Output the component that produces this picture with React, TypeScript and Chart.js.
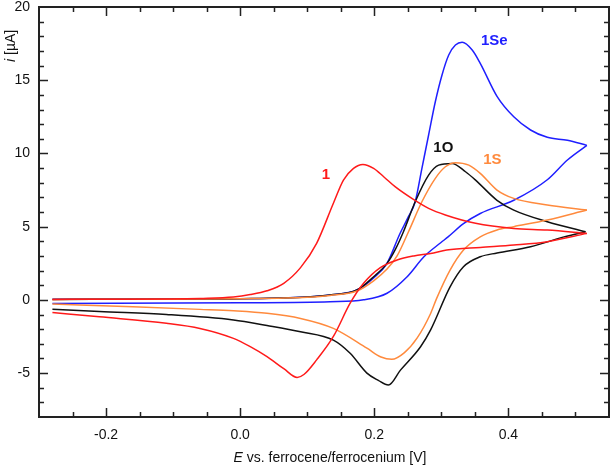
import React, { useEffect, useRef } from "react";
import { Chart, registerables } from "chart.js";

Chart.register(...registerables);

// Axis ticks
const xTicks = [-0.2, 0.0, 0.2, 0.4];
const yTicks = [-5, 0, 5, 10, 15, 20];

// Compound 1 (red): forward sweep then reverse sweep
const e1 = [-0.28, -0.2, -0.1, -0.06, -0.01, 0.015, 0.04, 0.065, 0.09, 0.114, 0.139, 0.154, 0.169, 0.183, 0.199, 0.214, 0.231, 0.256, 0.281, 0.306, 0.351, 0.408, 0.458, 0.517,
  0.458, 0.408, 0.358, 0.308, 0.284, 0.259, 0.234, 0.209, 0.184, 0.164, 0.139, 0.114, 0.095, 0.085, 0.065, 0.04, 0.015, -0.01, -0.06, -0.11, -0.21, -0.28];
const i1 = [0.03, 0.04, 0.06, 0.1, 0.2, 0.36, 0.62, 1.13, 2.2, 3.86, 6.6, 8.18, 8.98, 9.25, 8.98, 8.41, 7.73, 6.93, 6.25, 5.8, 5.23, 4.88, 4.77, 4.54,
  3.97, 3.74, 3.58, 3.4, 3.17, 3.0, 2.72, 2.2, 1.13, -0.23, -2.5, -4.1, -5.1, -5.3, -4.7, -3.88, -3.2, -2.63, -1.95, -1.6, -1.16, -0.86];

// Compound 1O (black)
const e1O = [-0.28, -0.1, 0.0, 0.1, 0.134, 0.174, 0.199, 0.219, 0.232, 0.243, 0.261, 0.281, 0.296, 0.316, 0.336, 0.351, 0.383, 0.408, 0.458, 0.515,
  0.483, 0.433, 0.383, 0.358, 0.333, 0.313, 0.284, 0.269, 0.239, 0.221, 0.206, 0.189, 0.164, 0.139, 0.09, 0.04, -0.01, -0.11, -0.21, -0.28];
const i1O = [0.03, 0.05, 0.08, 0.2, 0.33, 0.67, 1.58, 2.49, 3.5, 4.6, 6.7, 8.52, 9.2, 9.32, 8.75, 8.18, 6.8, 6.13, 5.34, 4.65,
  4.3, 3.63, 3.2, 2.94, 2.26, 0.89, -2.05, -3.2, -4.8, -5.82, -5.5, -5.0, -3.65, -2.75, -2.18, -1.75, -1.37, -1.0, -0.8, -0.64];

// Compound 1S (orange)
const e1S = [-0.28, -0.1, 0.0, 0.1, 0.134, 0.174, 0.199, 0.219, 0.234, 0.251, 0.271, 0.291, 0.306, 0.321, 0.341, 0.358, 0.383, 0.408, 0.458, 0.517,
  0.458, 0.408, 0.383, 0.358, 0.333, 0.313, 0.293, 0.284, 0.264, 0.245, 0.226, 0.21, 0.189, 0.139, 0.09, 0.04, -0.01, -0.06, -0.16, -0.28];
const i1S = [0.03, 0.05, 0.08, 0.18, 0.3, 0.6, 1.3, 2.1, 3.0, 4.65, 6.7, 8.3, 9.09, 9.37, 9.2, 8.64, 7.5, 6.93, 6.48, 6.13,
  5.45, 5.0, 4.77, 4.3, 3.4, 2.03, 0.1, -0.93, -2.6, -3.6, -4.06, -3.9, -3.3, -1.95, -1.27, -0.92, -0.75, -0.65, -0.47, -0.29];

// Compound 1Se (blue)
const e1Se = [-0.28, -0.1, 0.0, 0.1, 0.134, 0.174, 0.199, 0.219, 0.238, 0.25, 0.261, 0.271, 0.281, 0.291, 0.301, 0.311, 0.321, 0.331, 0.346, 0.358, 0.383, 0.408, 0.433, 0.458, 0.488, 0.517,
  0.488, 0.458, 0.408, 0.358, 0.333, 0.31, 0.299, 0.274, 0.249, 0.219, 0.184, 0.134, 0.0, -0.28];
const i1Se = [0.05, 0.06, 0.08, 0.2, 0.33, 0.67, 1.5, 2.5, 4.5, 5.6, 6.7, 8.98, 11.26, 13.53, 15.36, 16.72, 17.4, 17.59, 17.06, 16.15, 13.9, 12.5, 11.6, 11.1, 10.9, 10.55,
  9.55, 8.2, 6.8, 5.9, 5.2, 4.3, 3.9, 2.94, 1.58, 0.45, 0.0, -0.13, -0.2, -0.25];

// Curve labels (text, E, i)
const labelTexts = ["1", "1O", "1S", "1Se"];
const labelE = [0.128, 0.303, 0.376, 0.379];
const labelI = [8.52, 10.37, 9.55, 17.7];
const labelColors = ["#ff1a1a", "#111111", "#ff8a3d", "#1f1fff"];

const FONT = "'Liberation Sans', Arial, Helvetica, sans-serif";

// split a CV loop at its switching potential into forward and reverse branches
const branches = (xs: number[], ys: number[]) => {
  let v = 0;
  xs.forEach((x, k) => {
    if (x > xs[v]) v = k;
  });
  const pts = xs.map((x, k) => ({ x, y: ys[k] }));
  return [pts.slice(0, v + 1), pts.slice(v)];
};

const framePlugin = {
  id: "frameTicks",
  afterDatasetsDraw(chart: any) {
    const { ctx, scales } = chart;
    const x = scales.x;
    const y = scales.y;
    ctx.save();
    ctx.font = `bold 15px ${FONT}`;
    ctx.textAlign = "center";
    ctx.textBaseline = "middle";
    labelTexts.forEach((t, k) => {
      ctx.fillStyle = labelColors[k];
      ctx.fillText(t, x.getPixelForValue(labelE[k]), y.getPixelForValue(labelI[k]));
    });
    ctx.restore();
  },
  afterDraw(chart: any) {
    const { ctx, chartArea: a, scales } = chart;
    const x = scales.x;
    const y = scales.y;
    ctx.save();
    ctx.strokeStyle = "#222";
    ctx.lineWidth = 1.5;
    ctx.beginPath();
    for (let k = -5; k <= 10; k++) {
      const v = k * 0.05;
      const px = Math.round(x.getPixelForValue(v)) + 0.5;
      const len = k % 4 === 0 ? 9 : 5;
      ctx.moveTo(px, a.bottom);
      ctx.lineTo(px, a.bottom - len);
      ctx.moveTo(px, a.top);
      ctx.lineTo(px, a.top + len);
    }
    for (let k = -7; k <= 19; k++) {
      const py = Math.round(y.getPixelForValue(k)) + 0.5;
      const len = k % 5 === 0 ? 9 : 5;
      ctx.moveTo(a.left, py);
      ctx.lineTo(a.left + len, py);
      ctx.moveTo(a.right, py);
      ctx.lineTo(a.right - len, py);
    }
    ctx.stroke();
    ctx.lineWidth = 2;
    ctx.strokeRect(a.left, a.top, a.right - a.left, a.bottom - a.top);

    // axis titles
    ctx.fillStyle = "#111";
    ctx.textBaseline = "middle";
    ctx.textAlign = "left";
    const italic = `italic 14px ${FONT}`;
    const normal = `14px ${FONT}`;
    ctx.font = italic;
    const wE = ctx.measureText("E").width;
    ctx.font = normal;
    const rest = " vs. ferrocene/ferrocenium [V]";
    const wR = ctx.measureText(rest).width;
    const cx = (a.left + a.right) / 2 + 6;
    const sx = cx - (wE + wR) / 2;
    const ty = 458;
    ctx.font = italic;
    ctx.fillText("E", sx, ty);
    ctx.font = normal;
    ctx.fillText(rest, sx + wE, ty);

    ctx.translate(11, 62);
    ctx.rotate(-Math.PI / 2);
    ctx.font = italic;
    const wi = ctx.measureText("i").width;
    ctx.fillText("i", 0, 0);
    ctx.font = normal;
    ctx.fillText(" [µA]", wi, 0);
    ctx.restore();
  },
};

export default function App() {
  const ref = useRef<HTMLCanvasElement>(null);
  useEffect(() => {
    if (!ref.current) return;
    const ds = (label: string, xs: number[], ys: number[], color: string) =>
      branches(xs, ys).map((data) => ({
        label,
        data,
        showLine: true,
        borderColor: color,
        backgroundColor: color,
        borderWidth: 1.5,
        pointRadius: 0,
        cubicInterpolationMode: "monotone" as const,
        fill: false,
      }));
    const chart = new Chart(ref.current, {
      type: "scatter",
      data: {
        datasets: [
          ...ds("1", e1, i1, "#ff1a1a"),
          ...ds("1S", e1S, i1S, "#ff8a3d"),
          ...ds("1O", e1O, i1O, "#111111"),
          ...ds("1Se", e1Se, i1Se, "#1f1fff"),
        ],
      },
      options: {
        animation: false,
        responsive: false,
        devicePixelRatio: 1,
        layout: { padding: { top: 7, right: 1, left: 0, bottom: 0 } },
        plugins: { legend: { display: false }, tooltip: { enabled: false } },
        scales: {
          x: {
            type: "linear",
            min: -0.3,
            max: 0.55,
            grid: { display: false, drawTicks: false },
            border: { display: false },
            afterBuildTicks: (s: any) => {
              s.ticks = xTicks.map((v) => ({ value: v }));
            },
            afterFit: (s: any) => {
              s.height = 50;
              s.paddingLeft = 0;
              s.paddingRight = 0;
            },
            ticks: {
              padding: 10,
              color: "#111",
              font: { family: FONT, size: 14 },
              maxRotation: 0,
              callback: (v: any) => Number(v).toFixed(1),
            },
          },
          y: {
            type: "linear",
            min: -8,
            max: 20,
            grid: { display: false, drawTicks: false },
            border: { display: false },
            afterBuildTicks: (s: any) => {
              s.ticks = yTicks.map((v) => ({ value: v }));
            },
            afterFit: (s: any) => {
              s.width = 39;
              s.paddingTop = 0;
              s.paddingBottom = 0;
            },
            ticks: {
              padding: 9,
              color: "#111",
              font: { family: FONT, size: 14 },
              callback: (v: any) => String(v),
            },
          },
        },
      },
      plugins: [framePlugin],
    });
    return () => chart.destroy();
  }, []);
  return (
    <div style={{ position: "absolute", left: 0, top: 0, width: 610, height: 467, background: "#fff" }}>
      <canvas ref={ref} width={610} height={467} style={{ display: "block" }} />
    </div>
  );
}
